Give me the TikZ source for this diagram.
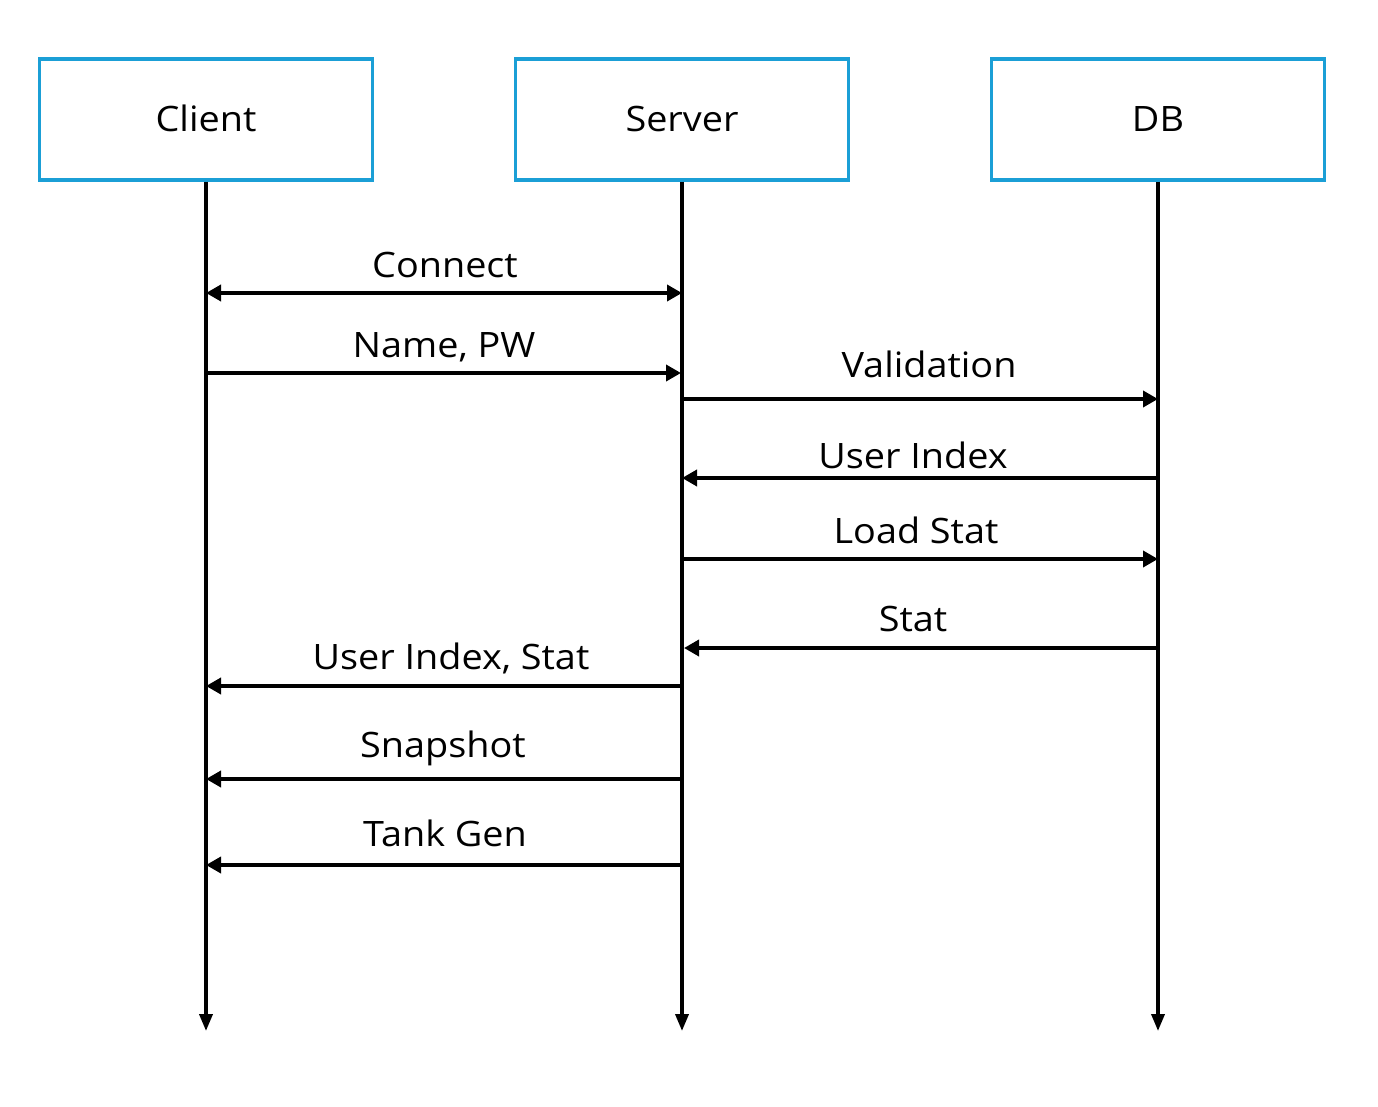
\documentclass[tikz,border=0pt]{standalone}
\usepackage{fontspec}
\setmainfont[FakeStretch=1.08]{Open Sans}
\usetikzlibrary{arrows.meta}
\definecolor{boxblue}{HTML}{1B9FD6}
\tikzset{
  actor/.style={draw=boxblue, line width=3.5pt, minimum width=333pt, minimum height=121pt, inner sep=0pt},
  life/.style={line width=3.6pt, -{Triangle[length=17pt,width=13pt]}},
  msg/.style={line width=3.6pt, -{Triangle[length=15pt,width=16pt]}},
  dmsg/.style={line width=3.6pt, {Triangle[length=15pt,width=16pt]}-{Triangle[length=15pt,width=16pt]}},
  lbl/.style={anchor=base, inner sep=0pt, font=\fontsize{35}{40}\selectfont}
}
\begin{document}
\begin{tikzpicture}[x=1pt,y=-1pt]
\useasboundingbox (0,0) rectangle (1378,1107);
\node[actor] (cl) at (206,119.5) {};
\node[actor] (sv) at (682,119.5) {};
\node[actor] (db) at (1158,119.5) {};
\node[lbl] (cll) at (206,132) {Client};
\node[lbl] (svl) at (682,132) {Server};
\node[lbl] (dbl) at (1158,132) {DB};
\coordinate (bot) at (0,1031);
\draw[life] (cl.south) -- (cl.south |- bot);
\draw[life] (sv.south) -- (sv.south |- bot);
\draw[life] (db.south) -- (db.south |- bot);
% rows
\coordinate (r1) at (0,293);
\coordinate (r2) at (0,373);
\coordinate (r3) at (0,399);
\coordinate (r4) at (0,478);
\coordinate (r5) at (0,559);
\coordinate (r6) at (0,648);
\coordinate (r7) at (0,686);
\coordinate (r8) at (0,779);
\coordinate (r9) at (0,865);
\draw[dmsg] (cl.south |- r1) -- (sv.south |- r1);
\draw[msg] (cl.south |- r2) -- ([xshift=-1pt]sv.south |- r2);
\draw[msg] (sv.south |- r3) -- (db.south |- r3);
\draw[msg] (db.south |- r4) -- (sv.south |- r4);
\draw[msg] (sv.south |- r5) -- (db.south |- r5);
\draw[msg] (db.south |- r6) -- ([xshift=2pt]sv.south |- r6);
\draw[msg] (sv.south |- r7) -- (cl.south |- r7);
\draw[msg] (sv.south |- r8) -- (cl.south |- r8);
\draw[msg] (sv.south |- r9) -- (cl.south |- r9);
\node[lbl] (t1) at (445,277) {Connect};
\node[lbl] (t2) at (444,357) {Name, PW};
\node[lbl] (t3) at (929,377) {Validation};
\node[lbl] (t4) at (913,468) {User Index};
\node[lbl] (t5) at (916,543) {Load Stat};
\node[lbl] (t6) at (913,631) {Stat};
\node[lbl] (t7) at (451,669) {User Index, Stat};
\node[lbl] (t8) at (443,757) {Snapshot};
\node[lbl] (t9) at (445,846) {Tank Gen};
\end{tikzpicture}
\end{document}
